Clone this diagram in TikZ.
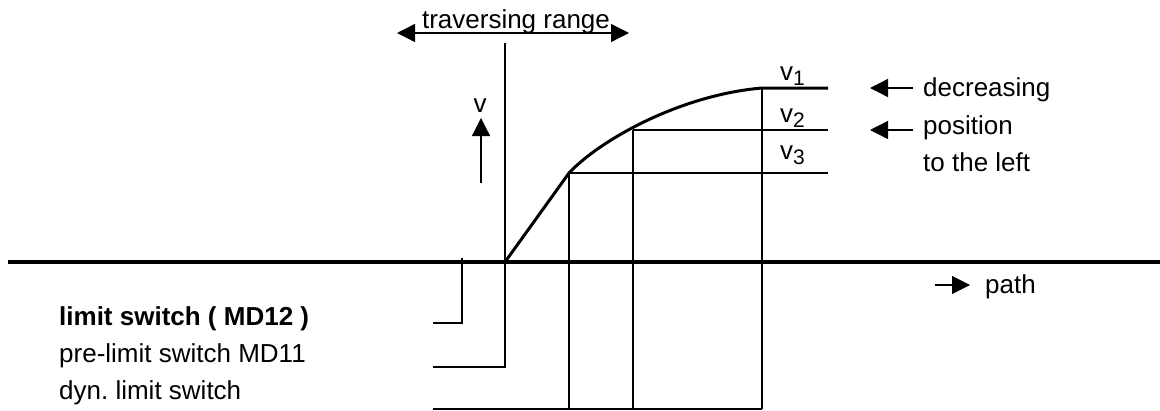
\documentclass[tikz,border=0pt]{standalone}
\usepackage{fontspec}
\setmainfont{Liberation Sans}
\usetikzlibrary{arrows.meta, positioning}
\frenchspacing

\begin{document}
\begin{tikzpicture}[x=1pt, y=-1pt,
    txt/.style={font=\fontsize{26}{28}\selectfont, inner sep=0pt},
    axisline/.style={line width=4pt},
    curveline/.style={line width=3pt, line join=round},
    gridline/.style={line width=1.3pt},
    pointer/.style={line width=1.3pt, -{Triangle[length=18pt, width=18pt]}},
    rangearrow/.style={line width=1.3pt,
        {Triangle[length=18pt, width=18pt]}-{Triangle[length=18pt, width=18pt]}}
]

\useasboundingbox (0,0) rectangle (1160,410);

% Path axis
\coordinate (axL) at (8,262);
\coordinate (axR) at (1160,262);
\draw[axisline] (axL) -- (axR);

% Traversing range
\coordinate (trL) at (397,33);
\coordinate (trR) at (629,33);
\draw[rangearrow] (trL) -- (trR);
\node[txt, anchor=base] (trange) at (516,28) {traversing range};

% Pre-limit switch position
\coordinate (preTop) at (505,43);
\coordinate (preBot) at (505,367);
\coordinate (preL) at (433,367);
\draw[gridline] (preTop) -- (preBot) -- (preL);

% Velocity arrow
\coordinate (vBot) at (481,183);
\coordinate (vTop) at (481,118);
\draw[pointer] (vBot) -- (vTop);
\node[txt, anchor=base] (vlab) at (480,112) {v};

% Braking characteristic
\coordinate (c0) at (505,262);
\coordinate (c1) at (569,173);
\coordinate (c3) at (762,88);
\coordinate (c4) at (828,88);
\draw[curveline] (c0) -- (c1) .. controls (600,140) and (680,95) .. (c3) -- (c4);

% Speed steps
\coordinate (s2) at (633,130);
\coordinate (s2R) at (828,130);
\coordinate (s3R) at (828,173);
\draw[gridline] (s2) -- (s2R);
\draw[gridline] (c1) -- (s3R);

% Dynamic limit switch
\coordinate (d1) at (569,409);
\coordinate (d2) at (633,409);
\coordinate (d3) at (762,409);
\coordinate (dL) at (433,409);
\draw[gridline] (c1) -- (d1);
\draw[gridline] (s2) -- (d2);
\draw[gridline] (c3) -- (d3);
\draw[gridline] (dL) -- (d3);

% Limit switch
\coordinate (limTop) at (462,258);
\coordinate (limBot) at (462,323);
\coordinate (limL) at (433,323);
\draw[gridline] (limTop) -- (limBot) -- (limL);

% Speed labels
\node[txt, anchor=base west] (v1) at (780,80) {v\raisebox{-5pt}{\fontsize{21}{21}\selectfont 1}};
\node[txt, anchor=base west] (v2) at (780,122) {v\raisebox{-5pt}{\fontsize{21}{21}\selectfont 2}};
\node[txt, anchor=base west] (v3) at (780,159) {v\raisebox{-5pt}{\fontsize{21}{21}\selectfont 3}};

% Direction note
\coordinate (a1R) at (913,88);
\coordinate (a1L) at (870,88);
\coordinate (a2R) at (913,130);
\coordinate (a2L) at (870,130);
\draw[pointer] (a1R) -- (a1L);
\draw[pointer] (a2R) -- (a2L);
\node[txt, anchor=base west] (dec) at (923,96) {decreasing};
\node[txt, anchor=base west] (pos) at (923,134) {position};
\node[txt, anchor=base west] (left) at (923,171) {to the left};

% Path direction
\coordinate (pL) at (935,285);
\coordinate (pR) at (970,285);
\draw[pointer] (pL) -- (pR);
\node[txt, anchor=base west] (path) at (985,293) {path};

% Switch labels
\node[txt, anchor=base west, font=\fontsize{26}{28}\selectfont\bfseries] (limsw) at (59,325) {limit switch ( MD12 )};
\node[txt, anchor=base west] (presw) at (59,362) {pre-limit switch MD11};
\node[txt, anchor=base west] (dynsw) at (59,399) {dyn. limit switch};

\end{tikzpicture}
\end{document}
